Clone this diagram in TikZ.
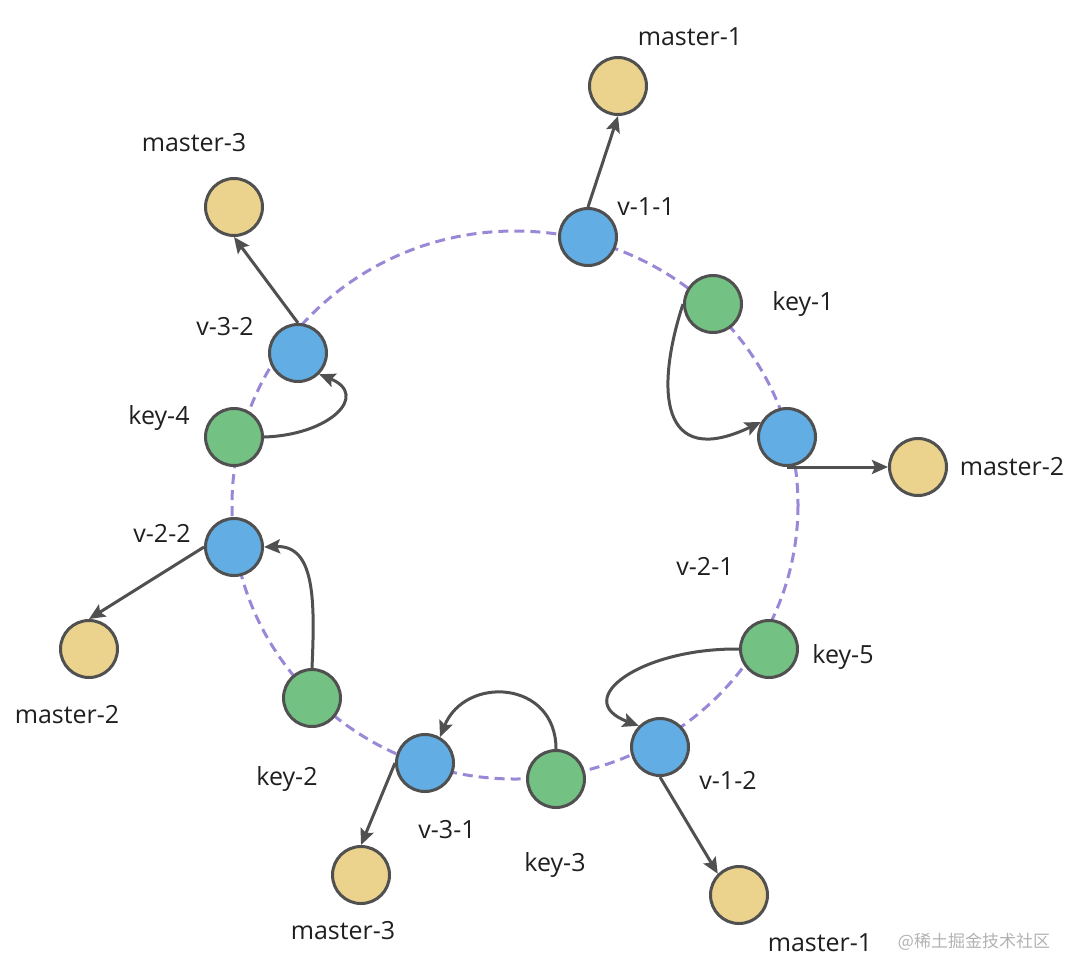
\documentclass[tikz,border=0pt]{standalone}
\usepackage{fontspec}
\setmainfont{Open Sans}
\newfontfamily\cjk{Noto Sans CJK SC}
\usetikzlibrary{arrows.meta}
\definecolor{vblue}{RGB}{98,173,227}
\definecolor{kgreen}{RGB}{116,193,132}
\definecolor{myellow}{RGB}{235,211,142}
\definecolor{ringc}{RGB}{154,136,214}
\definecolor{edgec}{RGB}{80,80,80}

\begin{document}
\begin{tikzpicture}[x=1pt,y=-1pt,
  dot/.style={circle, draw=edgec, line width=3pt, inner sep=0pt, minimum size=57pt},
  vnode/.style={dot, fill=vblue},
  knode/.style={dot, fill=kgreen},
  mnode/.style={dot, fill=myellow},
  lbl/.style={inner sep=0pt, text=black!88, font=\fontsize{25}{30}\selectfont},
  arr/.style={draw=edgec, line width=3pt, -{Stealth[length=16pt,width=14pt,inset=3pt]}}]
\useasboundingbox (0,0) rectangle (1081,978);
% the ring
\draw[ringc, line width=3pt, dash pattern=on 10pt off 6pt] (515,505) ellipse [x radius=283, y radius=274];
% nodes on the ring
\node[vnode] (v11) at (588,237) {};
\node[knode] (k1) at (713,304) {};
\node[vnode] (v21) at (787,437) {};
\node[knode] (k5) at (769,649) {};
\node[vnode] (v12) at (660,747) {};
\node[knode] (k3) at (556,779) {};
\node[vnode] (v31) at (425,763) {};
\node[knode] (k2) at (312,698) {};
\node[vnode] (v22) at (234,547) {};
\node[knode] (k4) at (234,437) {};
\node[vnode] (v32) at (298,353) {};
% masters
\node[mnode] (m1a) at (618,86) {};
\node[mnode] (m2a) at (918,467) {};
\node[mnode] (m1b) at (739,895) {};
\node[mnode] (m3b) at (361,875) {};
\node[mnode] (m2b) at (89,649) {};
\node[mnode] (m3a) at (234,207) {};
% labels
\node[lbl] (l-m1a) at (690,37) {master-1};
\node[lbl] (l-v11) at (646,207) {v-1-1};
\node[lbl] (l-k1) at (803,304) {key-1};
\node[lbl] (l-m2a) at (1012,467) {master-2};
\node[lbl] (l-v21) at (705,566) {v-2-1};
\node[lbl] (l-k5) at (843,657) {key-5};
\node[lbl] (l-v12) at (728,780) {v-1-2};
\node[lbl] (l-m1b) at (820,943) {master-1};
\node[lbl] (l-k3) at (555,865) {key-3};
\node[lbl] (l-v31) at (447,830) {v-3-1};
\node[lbl] (l-m3b) at (343,931) {master-3};
\node[lbl] (l-k2) at (287,779) {key-2};
\node[lbl] (l-m2b) at (67,715) {master-2};
\node[lbl] (l-v22) at (162,533) {v-2-2};
\node[lbl] (l-k4) at (159,418) {key-4};
\node[lbl] (l-v32) at (225,327) {v-3-2};
\node[lbl] (l-m3a) at (194,143) {master-3};
\node[inner sep=0pt, text=black!30, font=\cjk\fontsize{17}{20}\selectfont] (mark) at (974,942) {@稀土掘金技术社区};
% v -> master
\draw[arr] (v11.north) -- (m1a.south);
\draw[arr] (v21.south) -- (m2a.west);
\draw[arr] (v12.south) -- (m1b.135);
\draw[arr] (v31.west) -- (m3b.north);
\draw[arr] (v22.west) -- (m2b.north);
\draw[arr] (v32.north) -- (m3a.south);
% key -> v
\draw[arr] (k1.west) .. controls (655,390) and (660,470) .. (v21.150);
\draw[arr] (k5.west) .. controls (640,648) and (570,700) .. (v12.135);
\draw[arr] (k3.north) .. controls (556,680) and (465,675) .. (v31.60);
\draw[arr] (k2.north) .. controls (315,600) and (315,545) .. (v22.east);
\draw[arr] (k4.east) .. controls (330,435) and (370,395) .. (v32.315);
\end{tikzpicture}
\end{document}
